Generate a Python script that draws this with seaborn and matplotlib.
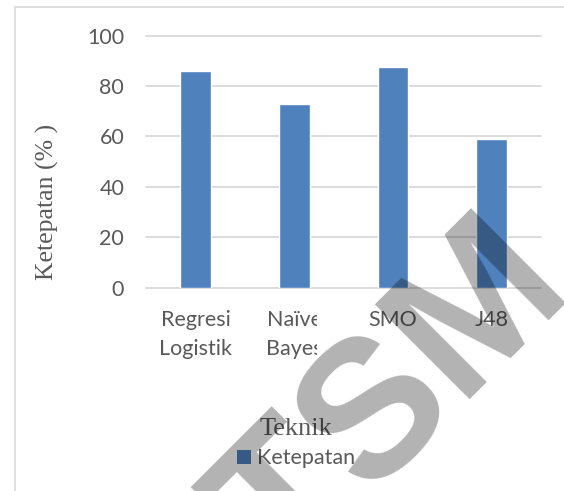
import matplotlib
matplotlib.use("Agg")
import matplotlib.pyplot as plt
from matplotlib.patches import Patch, Rectangle
from matplotlib.transforms import Bbox
import seaborn as sns
import pandas as pd

# Accuracy of each classification technique
categories = ["Regresi\nLogistik", "Naïve\nBayes", "SMO", "J48"]
values = [85.9, 72.7, 87.4, 58.9]
yticks = [0, 20, 40, 60, 80, 100]
series_name = "Ketepatan"

df = pd.DataFrame({"Teknik": categories, "Ketepatan": values})

sns.set_theme(style="white")
plt.rcParams["font.family"] = ["Lato", "DejaVu Sans"]

W, H = 564, 491
fig = plt.figure(figsize=(W / 100, H / 100), dpi=100)
fig.patch.set_facecolor("white")

# chart-area border (left and top edges visible)
fig.patches.append(Rectangle((15 / W, -0.1), 1.2, 1 - 7 / H + 0.1,
                             transform=fig.transFigure, fill=False,
                             edgecolor="#d9d9d9", linewidth=1.2))

left, right = 146.4 / W, 540.7 / W
bottom, top = 1 - 287.5 / H, 1 - 35.7 / H
ax = fig.add_axes([left, bottom, right - left, top - bottom])

bar_color = "#4f81bd"
text_color = "#595959"

sns.barplot(data=df, x="Teknik", y="Ketepatan", color=bar_color,
            saturation=1, width=0.31, ax=ax, zorder=3)

ax.set_ylim(0, 100)
ax.set_xlim(-0.5, len(categories) - 0.5)
ax.set_yticks(yticks)
ax.set_yticklabels([str(v) for v in yticks])
for y in yticks:
    ax.axhline(y, color="#d9d9d9", linewidth=1.3, zorder=1, clip_on=False)
for s in ax.spines.values():
    s.set_visible(False)
ax.set_xlabel("")
ax.set_ylabel("")
ax.tick_params(axis="both", length=0, labelsize=15.5, labelcolor=text_color)
ax.tick_params(axis="y", pad=16)
ax.tick_params(axis="x", pad=16)
for lab in ax.get_xticklabels():
    lab.set_linespacing(1.6)

# the second category label is cut at the right edge of its slot
fig.canvas.draw()
lab = ax.get_xticklabels()[1]
cx = ax.transData.transform((1, 0))[0]
lab.set_clip_box(Bbox.from_extents(cx - 60, 0, cx + 23, H))
lab.set_clip_on(True)

fig.text(47 / W, 1 - 202 / H, "Ketepatan (% )", rotation=90, ha="center",
         va="center", fontsize=18.5, color=text_color,
         family=["Liberation Serif", "DejaVu Serif"])

handles = [Patch(facecolor=bar_color, edgecolor="none")]
leg = ax.legend(handles, [series_name], title="Teknik", frameon=False,
                loc="center", bbox_to_anchor=(296 / W, 1 - 443 / H),
                bbox_transform=fig.transFigure, fontsize=15.5,
                handlelength=0.65, handleheight=0.65, handletextpad=0.25,
                borderpad=0, labelspacing=0.4)
leg.get_title().set_fontfamily(["Liberation Serif", "DejaVu Serif"])
leg.get_title().set_fontsize(19)
leg.get_title().set_color(text_color)
for t in leg.get_texts():
    t.set_color(text_color)

# diagonal watermark
fig.text(378 / W, 1 - 480 / H, "UTSM", rotation=45, rotation_mode="anchor",
         ha="center", va="baseline", fontsize=140, fontweight="bold",
         color="black", alpha=0.3,
         family=["Liberation Sans", "DejaVu Sans"], zorder=10)

fig.savefig("out.png", dpi=100)
